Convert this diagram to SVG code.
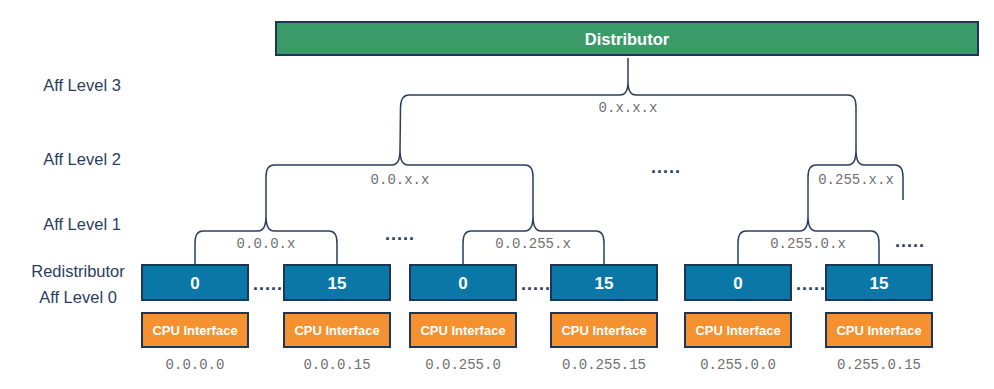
<svg xmlns="http://www.w3.org/2000/svg" width="994" height="389" viewBox="0 0 994 389">
<style>
.lbl{font-family:"Liberation Sans",Arial,sans-serif;font-size:16.5px;fill:#2b3d5e;text-anchor:middle}
.mono{font-family:"Liberation Mono","Courier New",monospace;font-size:14px;fill:#707070;text-anchor:middle}
.dots{font-family:"Liberation Sans",Arial,sans-serif;font-size:18px;font-weight:bold;fill:#2b3d5e;letter-spacing:1px}
.brace{fill:none;stroke:#2b3d5e;stroke-width:1.5}
.redis{fill:#0b77a6;stroke:#1d3557;stroke-width:2}
.cpu{fill:#f5922f;stroke:#1d3557;stroke-width:2}
.dist{fill:#3a9a68;stroke:#1d3557;stroke-width:2}
.num{font-family:"Liberation Sans",Arial,sans-serif;font-size:17px;font-weight:bold;fill:#fff;text-anchor:middle}
.cpul{font-family:"Liberation Sans",Arial,sans-serif;font-size:13px;font-weight:bold;fill:#fff;text-anchor:middle}
.distl{font-family:"Liberation Sans",Arial,sans-serif;font-size:16.5px;font-weight:bold;fill:#fff;text-anchor:middle}
</style>
<rect width="994" height="389" fill="#fff"/>
<g id="labels">
<text class="lbl" x="82" y="91">Aff Level 3</text>
<text class="lbl" x="82" y="165">Aff Level 2</text>
<text class="lbl" x="82" y="230">Aff Level 1</text>
<text class="lbl" x="78" y="277">Redistributor</text>
<text class="lbl" x="78" y="303">Aff Level 0</text>
</g>
<g id="distributor">
<rect class="dist" x="276" y="22" width="702" height="33"/>
<text class="distl" x="627" y="45">Distributor</text>
</g>
<g id="connectors">
<path class="brace" d="M628,58 V82 Q628,95 620,95 H409 Q401,95 400.5,107 L400,150 M628,82 Q628,95 636,95 H848 Q856,95 856,107 V150"/>
<path class="brace" d="M400,150 Q400,165 392,165 H274 Q266,165 266,177 V216 M400,150 Q400,165 408,165 H525 Q533,165 533,177 V216"/>
<path class="brace" d="M856,150 Q856,165 848,165 H816 Q808,165 808,177 V216 M856,150 Q856,165 864,165 H895 Q903,165 903,177 V200"/>
<path class="brace" d="M266,216 Q266,231 258,231 H203 Q195,231 195,243 V264 M266,216 Q266,231 274,231 H329 Q337,231 337,243 V264"/>
<path class="brace" d="M533,216 Q533,231 525,231 H471 Q463,231 463,243 V264 M533,216 Q533,231 541,231 H596 Q604,231 604,243 V264"/>
<path class="brace" d="M808,216 Q808,231 800,231 H746 Q738,231 738,243 V264 M808,216 Q808,231 816,231 H871 Q879,231 879,243 V264"/>
</g>
<g id="addr-labels">
<text class="mono" x="628" y="112">0.x.x.x</text>
<text class="mono" x="400" y="184">0.0.x.x</text>
<text class="mono" x="856" y="184">0.255.x.x</text>
<text class="mono" x="266" y="248">0.0.0.x</text>
<text class="mono" x="533" y="248">0.0.255.x</text>
<text class="mono" x="808" y="248">0.255.0.x</text>
</g>
<g id="ellipses">
<text class="dots" x="385" y="240">.....</text>
<text class="dots" x="651" y="173">.....</text>
<text class="dots" x="895" y="247">.....</text>
<text class="dots" x="253" y="290">.....</text>
<text class="dots" x="521" y="290">.....</text>
<text class="dots" x="796" y="290">.....</text>
</g>
<g id="node-0000">
<rect class="redis" x="142" y="265" width="106" height="35"/>
<text class="num" x="195" y="289">0</text>
<rect class="cpu" x="142" y="313" width="106" height="34"/>
<text class="cpul" x="195" y="335">CPU Interface</text>
<text class="mono" x="195" y="369">0.0.0.0</text>
</g>
<g id="node-00015">
<rect class="redis" x="284" y="265" width="106" height="35"/>
<text class="num" x="337" y="289">15</text>
<rect class="cpu" x="284" y="313" width="106" height="34"/>
<text class="cpul" x="337" y="335">CPU Interface</text>
<text class="mono" x="337" y="369">0.0.0.15</text>
</g>
<g id="node-002550">
<rect class="redis" x="410" y="265" width="106" height="35"/>
<text class="num" x="463" y="289">0</text>
<rect class="cpu" x="410" y="313" width="106" height="34"/>
<text class="cpul" x="463" y="335">CPU Interface</text>
<text class="mono" x="463" y="369">0.0.255.0</text>
</g>
<g id="node-0025515">
<rect class="redis" x="551" y="265" width="106" height="35"/>
<text class="num" x="604" y="289">15</text>
<rect class="cpu" x="551" y="313" width="106" height="34"/>
<text class="cpul" x="604" y="335">CPU Interface</text>
<text class="mono" x="604" y="369">0.0.255.15</text>
</g>
<g id="node-025500">
<rect class="redis" x="685" y="265" width="106" height="35"/>
<text class="num" x="738" y="289">0</text>
<rect class="cpu" x="685" y="313" width="106" height="34"/>
<text class="cpul" x="738" y="335">CPU Interface</text>
<text class="mono" x="738" y="369">0.255.0.0</text>
</g>
<g id="node-0255015">
<rect class="redis" x="826" y="265" width="106" height="35"/>
<text class="num" x="879" y="289">15</text>
<rect class="cpu" x="826" y="313" width="106" height="34"/>
<text class="cpul" x="879" y="335">CPU Interface</text>
<text class="mono" x="879" y="369">0.255.0.15</text>
</g>
</svg>
